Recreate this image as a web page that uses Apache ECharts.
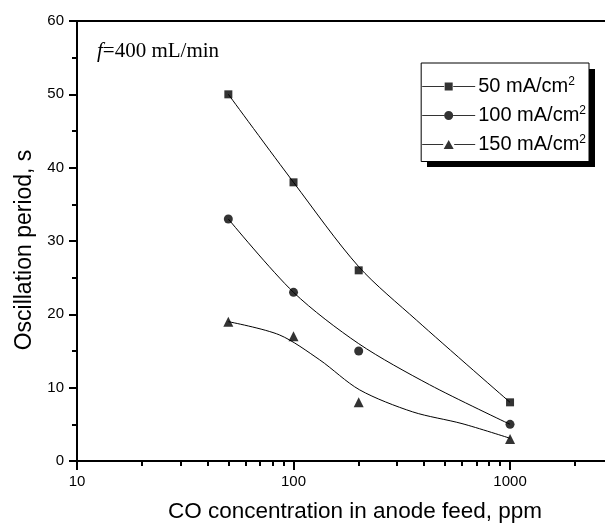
<!DOCTYPE html>
<html><head><meta charset="utf-8">
<script src="https://cdn.jsdelivr.net/npm/echarts@6/dist/echarts.min.js"></script>
<style>html,body{margin:0;padding:0;background:#fff}#c{width:605px;height:524px}</style>
</head><body><div id="c"></div>
<script>
// ---- data ----
const conc = [50, 100, 200, 1000];              // CO concentration, ppm
const names = ['50 mA/cm²', '100 mA/cm²', '150 mA/cm²'];
const period50 = [50, 38, 26, 8];
const period100 = [33, 23, 15, 5];
const period150 = [19, 17, 8, 3];
// fitted guide curves
const fitX50 = [50, 100, 200, 370, 1000];
const fit50 = [50, 38, 26.5, 19.2, 8];
const fitX100 = [50, 100, 200, 425, 1000];
const fit100 = [33, 23, 16, 10.4, 5];
const fitX150 = [50, 86, 132, 202, 355, 600, 1000];
const fit150 = [19, 17.2, 13.8, 9.7, 6.7, 5.1, 3.1];
const xMajor = [10, 100, 1000];
const xMinor = [20, 30, 40, 50, 60, 70, 80, 90, 200, 300, 400, 500, 600, 700, 800, 900, 2000];

const zip = (xs, ys) => xs.map((x, i) => [x, ys[i]]);
const XMIN = 10, XMAX = 2745;
const font = 'Arial, "Liberation Sans", sans-serif';

const icons = [
  'path://M0,4.5H22V5.5H0Z M22.5,1H30.5V9H22.5Z M31,4.5H53V5.5H31Z',
  'path://M0,4.5H22V5.5H0Z M22,5a4.5,4.5 0 1,0 9,0a4.5,4.5 0 1,0 -9,0Z M31,4.5H53V5.5H31Z',
  'path://M0,4.5H21V5.5H0Z M21.5,9.5L26.5,0.5L31.5,9.5Z M32,4.5H53V5.5H32Z'
];
const symbols = ['rect', 'circle', 'triangle'];
const symSizes = [8, 9, 10];
const pts = [period50, period100, period150];
const fits = [[fitX50, fit50], [fitX100, fit100], [fitX150, fit150]];

const series = [];
fits.forEach((f, i) => {
  series.push({
    type: 'line', name: 'fit' + i, data: zip(f[0], f[1]), smooth: 0.3,
    symbol: 'none', silent: true, z: 2,
    lineStyle: { color: '#000', width: 1 }
  });
});
pts.forEach((p, i) => {
  series.push({
    type: 'scatter', name: names[i], data: zip(conc, p),
    symbol: symbols[i], symbolSize: symSizes[i], z: 3,
    itemStyle: { color: '#000' }
  });
});

const chart = echarts.init(document.getElementById('c'), null, { renderer: 'canvas' });
chart.setOption({
  animation: false,
  backgroundColor: '#fff',
  grid: { left: 77, right: 0, top: 21, bottom: 63, containLabel: false, outerBoundsMode: 'none' },
  xAxis: [
    {
      type: 'log', logBase: 10, min: XMIN, max: XMAX, position: 'bottom',
      name: 'CO concentration in anode feed, ppm', nameLocation: 'middle', nameGap: 39,
      nameTextStyle: { fontFamily: font, fontSize: 22.5, color: '#000', padding: [0, 0, 0, 28] },
      axisLine: { lineStyle: { color: '#000', width: 2 } },
      axisTick: { customValues: xMajor, length: 9, inside: false, lineStyle: { color: '#000', width: 2 } },
      axisLabel: { customValues: xMajor, formatter: v => String(Math.round(v)), fontFamily: font, fontSize: 15, color: '#000', margin: 13 },
      splitLine: { show: false }
    },
    {
      type: 'log', logBase: 10, min: XMIN, max: XMAX, position: 'bottom',
      axisLine: { show: false },
      axisTick: { customValues: xMinor, length: 5, inside: false, lineStyle: { color: '#000', width: 2 } },
      axisLabel: { show: false },
      splitLine: { show: false }
    },
    {
      type: 'log', logBase: 10, min: XMIN, max: XMAX, position: 'top',
      axisLine: { lineStyle: { color: '#000', width: 2 } },
      axisTick: { show: false }, axisLabel: { show: false }, splitLine: { show: false }
    }
  ],
  yAxis: {
    type: 'value', min: 0, max: 60, interval: 10,
    name: 'Oscillation period, s', nameLocation: 'middle', nameGap: 38,
    nameTextStyle: { fontFamily: font, fontSize: 23, color: '#000', padding: [0, 18, 0, 0] },
    axisLine: { show: true, lineStyle: { color: '#000', width: 2 } },
    axisTick: { show: true, length: 8, lineStyle: { color: '#000', width: 2 } },
    minorTick: { show: true, splitNumber: 2, length: 5, lineStyle: { color: '#000', width: 2 } },
    axisLabel: { fontFamily: font, fontSize: 15, color: '#000', margin: 13 },
    splitLine: { show: false }
  },
  legend: {
    orient: 'vertical', right: 16, top: 63, z: 10,
    data: names.map((n, i) => ({ name: n, icon: icons[i] })),
    itemWidth: 53, itemHeight: 10, itemGap: 8.5,
    padding: [13, 3, 7, 1],
    backgroundColor: '#fff', borderColor: '#000', borderWidth: 1,
    itemStyle: { color: '#000', borderWidth: 0 },
    formatter: n => '{t|' + n.replace('²', '') + '}{s|2}',
    textStyle: {
      color: '#000', fontFamily: font, fontSize: 20, padding: [0, 0, 0, -2],
      rich: {
        t: { fontFamily: font, fontSize: 20, lineHeight: 21, color: '#000' },
        s: { fontFamily: font, fontSize: 12, lineHeight: 12, verticalAlign: 'top', color: '#000' }
      }
    }
  },
  graphic: [
    { type: 'rect', left: 427, top: 69, z: 5, shape: { width: 168, height: 98 }, style: { fill: '#000' } },
    {
      type: 'text', left: 97, top: 41,
      style: {
        text: '{i|f}{n|=400 mL/min}',
        rich: {
          i: { fontFamily: '"Liberation Serif", "Times New Roman", serif', fontStyle: 'italic', fontSize: 21, fill: '#000' },
          n: { fontFamily: '"Liberation Serif", "Times New Roman", serif', fontSize: 21, fill: '#000' }
        }
      }
    }
  ],
  series: series
});
</script>
</body></html>
